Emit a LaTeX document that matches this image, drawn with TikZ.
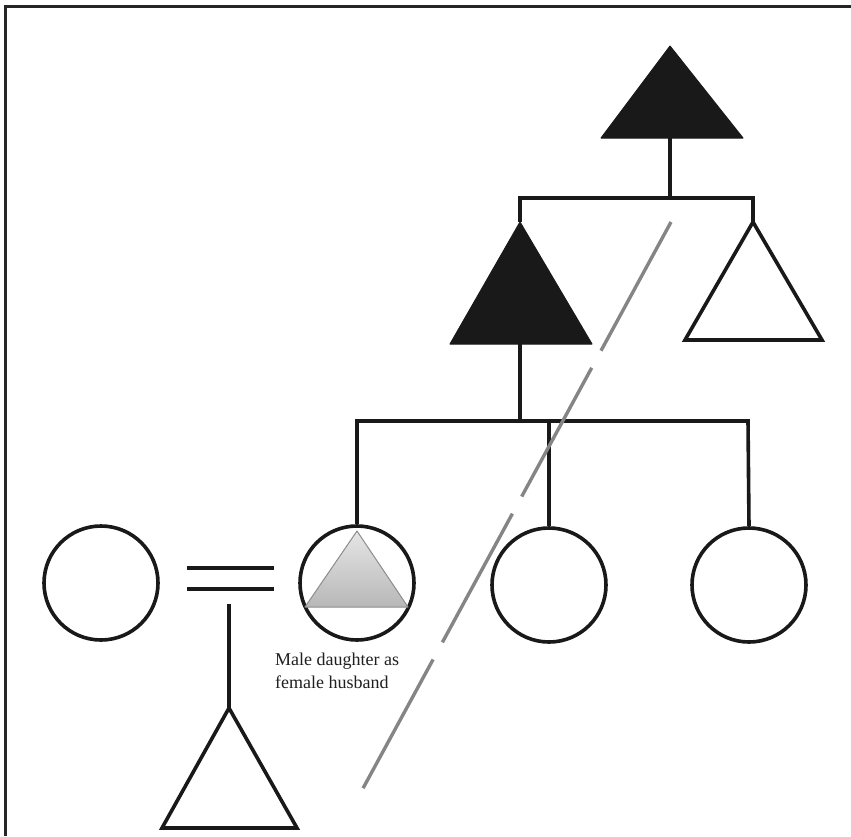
\documentclass[tikz,border=0pt]{standalone}
\usepackage{fontspec}
\setmainfont{Liberation Serif}
\begin{document}
\begin{tikzpicture}[x=1pt,y=-1pt,
  kin/.style={draw=black!90,line width=3.6pt},
  tri/.style={draw=black!90,line width=3.6pt,line join=miter},
  filledtri/.style={fill=black!90,draw=black!90,line width=1pt,line join=round},
  person/.style={circle,draw=black!90,line width=3.6pt,minimum size=114pt,inner sep=0pt},
  framel/.style={draw=black!85,line width=3pt},
  crossline/.style={draw=black!48,line width=3.4pt,dash pattern=on 146.5pt off 19.5pt},
  captext/.style={text=black!88,align=left,inner sep=0pt}]
\useasboundingbox (0,0) rectangle (851,836);
% frame (top and left sides)
\coordinate (fTL) at (5,6);
\coordinate (fTR) at (851,6);
\coordinate (fBL) at (5,836);
\draw[framel] (fTR) -- (fTL) -- (fBL);

% top ancestor (filled)
\coordinate (t1) at (670,46);
\coordinate (t1l) at (601,138);
\coordinate (t1r) at (743,138);
\coordinate (t1b) at (670,138);
\filldraw[filledtri] (t1) -- (t1r) -- (t1l) -- cycle;

% bar 1
\coordinate (b1) at (670,198);
\coordinate (b1l) at (520,198);
\coordinate (b1r) at (753,198);
\draw[kin] (t1b) -- (b1);
\draw[kin,line cap=rect] (b1l) -- (b1r);

% right open triangle
\coordinate (t3) at (753,222);
\coordinate (t3l) at (685,340);
\coordinate (t3r) at (822,340);
\draw[kin] (b1r) -- (t3);
\draw[tri] (t3) -- (t3r) -- (t3l) -- cycle;

% middle filled triangle
\coordinate (t2) at (520,222);
\coordinate (t2l) at (450,344);
\coordinate (t2r) at (592,344);
\coordinate (t2b) at (520,344);
\draw[kin] (b1l) -- (t2);
\filldraw[filledtri] (t2) -- (t2r) -- (t2l) -- cycle;

% bar 2
\coordinate (b2) at (520,421);
\coordinate (b2l) at (357,421);
\coordinate (b2m) at (549,421);
\coordinate (b2r) at (748,421);
\draw[kin] (t2b) -- (b2);
\draw[kin,line cap=rect] (b2l) -- (b2r);

% bottom row of circles
\node[person] (wife) at (101,583) {};
\node[person] (dau) at (357,583) {};
\node[person] (c3) at (549,585) {};
\node[person] (c4) at (749,585) {};
\draw[kin] (b2l) -- (dau.north);
\draw[kin] (b2m) -- (c3.north);
\draw[kin] (b2r) -- (c4.north);

% gray triangle inside daughter
\coordinate (gt) at (357,531);
\coordinate (gtl) at (305,607);
\coordinate (gtr) at (408,607);
\shade[top color=black!10,bottom color=black!28] (gt) -- (gtr) -- (gtl) -- cycle;
\draw[draw=black!45,line width=1pt,line join=round] (gt) -- (gtr) -- (gtl) -- cycle;

% marriage sign
\coordinate (e1a) at (187,568);
\coordinate (e1b) at (274,568);
\coordinate (e2a) at (187,589);
\coordinate (e2b) at (274,589);
\draw[kin] (e1a) -- (e1b);
\draw[kin] (e2a) -- (e2b);

% child
\coordinate (cs) at (229,604);
\coordinate (t4) at (229,708);
\coordinate (t4l) at (162,828);
\coordinate (t4r) at (297,828);
\draw[kin] (cs) -- (t4);
\draw[tri] (t4) -- (t4r) -- (t4l) -- cycle;

% caption
\node[captext,anchor=north west,font=\fontsize{18}{23}\selectfont] (cap) at (275,653) {Male daughter as\\female husband};

% gray crossing line
\coordinate (g1) at (671,222);
\coordinate (g2) at (361,792);
\draw[crossline] (g1) -- (g2);
\end{tikzpicture}
\end{document}
